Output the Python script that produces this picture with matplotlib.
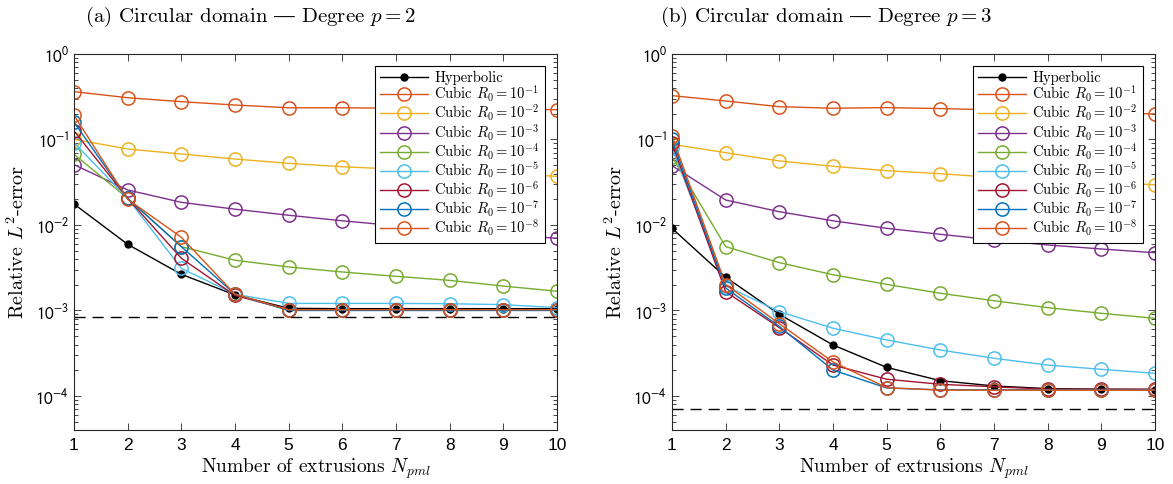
import matplotlib
matplotlib.use("Agg")
import matplotlib.pyplot as plt
from matplotlib.ticker import LogLocator, NullFormatter

plt.rcParams['font.family'] = ['cmr10', 'DejaVu Serif']
plt.rcParams['mathtext.fontset'] = 'cm'
plt.rcParams['axes.unicode_minus'] = False

# --- data ---
n_ext = [1, 2, 3, 4, 5, 6, 7, 8, 9, 10]
r0_exps = [1, 2, 3, 4, 5, 6, 7, 8]

# (a) p = 2
hyp_a = [0.0176, 0.00594, 0.00265, 0.00152, 0.00106, 0.00105, 0.00105, 0.00105, 0.00105, 0.00105]
cub_a = [
    [0.363, 0.308, 0.277, 0.253, 0.235, 0.235, 0.232, 0.230, 0.228, 0.223],
    [0.1005, 0.0774, 0.0677, 0.0591, 0.0526, 0.048, 0.045, 0.042, 0.040, 0.0371],
    [0.0508, 0.0257, 0.0184, 0.0153, 0.0130, 0.0112, 0.0098, 0.0087, 0.0077, 0.0070],
    [0.0671, 0.0205, 0.00558, 0.00387, 0.00323, 0.00282, 0.00251, 0.00225, 0.00193, 0.00168],
    [0.0918, 0.0205, 0.00311, 0.00155, 0.00121, 0.00121, 0.00121, 0.00120, 0.00117, 0.00108],
    [0.126, 0.0205, 0.00408, 0.00150, 0.00102, 0.00102, 0.00102, 0.00102, 0.00102, 0.00102],
    [0.159, 0.0205, 0.00558, 0.00155, 0.00100, 0.00100, 0.00100, 0.00100, 0.00100, 0.00100],
    [0.192, 0.0200, 0.00718, 0.00155, 0.00102, 0.00102, 0.00102, 0.00102, 0.00102, 0.00102],
]
ref_a = 8.3e-4

# (b) p = 3
hyp_b = [0.00914, 0.00245, 0.000902, 0.000395, 0.000216, 0.000151, 0.000131, 0.000122, 0.000120, 0.000119]
cub_b = [
    [0.326, 0.282, 0.242, 0.232, 0.236, 0.230, 0.222, 0.214, 0.206, 0.199],
    [0.0879, 0.0701, 0.0561, 0.0486, 0.0432, 0.0398, 0.036, 0.0335, 0.0315, 0.0296],
    [0.0494, 0.0196, 0.0143, 0.0112, 0.00914, 0.00778, 0.00668, 0.00584, 0.00524, 0.00474],
    [0.063, 0.00558, 0.00363, 0.00262, 0.00202, 0.00159, 0.00130, 0.00108, 0.000927, 0.000810],
    [0.0789, 0.00194, 0.000970, 0.000620, 0.000452, 0.000345, 0.000276, 0.000230, 0.000205, 0.000184],
    [0.090, 0.00166, 0.000630, 0.000230, 0.000157, 0.000137, 0.000128, 0.000120, 0.000120, 0.000120],
    [0.100, 0.00183, 0.000650, 0.000201, 0.000124, 0.000118, 0.000118, 0.000118, 0.000118, 0.000118],
    [0.110, 0.00201, 0.000700, 0.000250, 0.000125, 0.000117, 0.000117, 0.000117, 0.000117, 0.000117],
]
ref_b = 7.05e-5

y_ticks = [1e-4, 1e-3, 1e-2, 1e-1, 1e0]
y_labels = [r'$10^{-4}$', r'$10^{-3}$', r'$10^{-2}$', r'$10^{-1}$', r'$10^{0}$']

colors = ['#D95319', '#EDB120', '#7E2F8E', '#77AC30', '#4DBEEE', '#A2142F', '#0072BD', '#D95319']

W, H = 1173, 484
fig = plt.figure(figsize=(W / 100, H / 100), dpi=100)


def make_panel(left_px, hyp, cub, ref, title, title_x):
    ax = fig.add_axes([left_px / W, (H - 430) / H, 483 / W, 376 / H])
    ax.plot(n_ext, hyp, color='black', marker='o', ms=5, lw=1.0, label='Hyperbolic')
    for vals, e, c in zip(cub, r0_exps, colors):
        ax.plot(n_ext, vals, color=c, marker='o', ms=9.5, mfc='none', mew=1.1, lw=1.0,
                label=r'Cubic $R_0 = 10^{-%d}$' % e)
    ax.axhline(ref, color='black', lw=1.0, dashes=(8, 5))
    ax.set_yscale('log')
    ax.set_xlim(1, 10)
    ax.set_ylim(4e-5, 1)
    ax.set_xticks(n_ext)
    ax.set_xticklabels([str(n) for n in n_ext], fontfamily='Liberation Sans')
    ax.set_yticks(y_ticks, y_labels, math_fontfamily='stixsans')
    ax.yaxis.set_minor_locator(LogLocator(base=10, subs=range(2, 10), numticks=20))
    ax.yaxis.set_minor_formatter(NullFormatter())
    ax.tick_params(which='both', direction='in', top=True, right=True, labelsize=12.5,
                   color='#262626', width=0.6)
    ax.tick_params(which='major', length=5)
    ax.tick_params(which='minor', length=3)
    ax.tick_params(axis='x', pad=6)
    for s in ax.spines.values():
        s.set_linewidth(0.8)
        s.set_color('#262626')
    ax.set_xlabel(r'Number of extrusions $N_{pml}$', fontsize=14, labelpad=2)
    ax.set_ylabel(r'Relative $L^2$-error', fontsize=14.5, labelpad=5)
    leg = ax.legend(loc='upper right', fontsize=10.5, labelspacing=-0.08, handlelength=3.3,
                    borderaxespad=0.8, fancybox=False, framealpha=1, edgecolor='black',
                    borderpad=0.35, handletextpad=0.45)
    leg.get_frame().set_linewidth(0.8)
    fig.text(title_x / W, 1 - 17 / H, title, ha='center', va='center', fontsize=15)
    return ax


make_panel(74, hyp_a, cub_a, ref_a, r'(a) Circular domain $—$ Degree $p = 2$', 250)
make_panel(672, hyp_b, cub_b, ref_b, r'(b) Circular domain $—$ Degree $p = 3$', 826)

fig.savefig('out.png', dpi=100)
